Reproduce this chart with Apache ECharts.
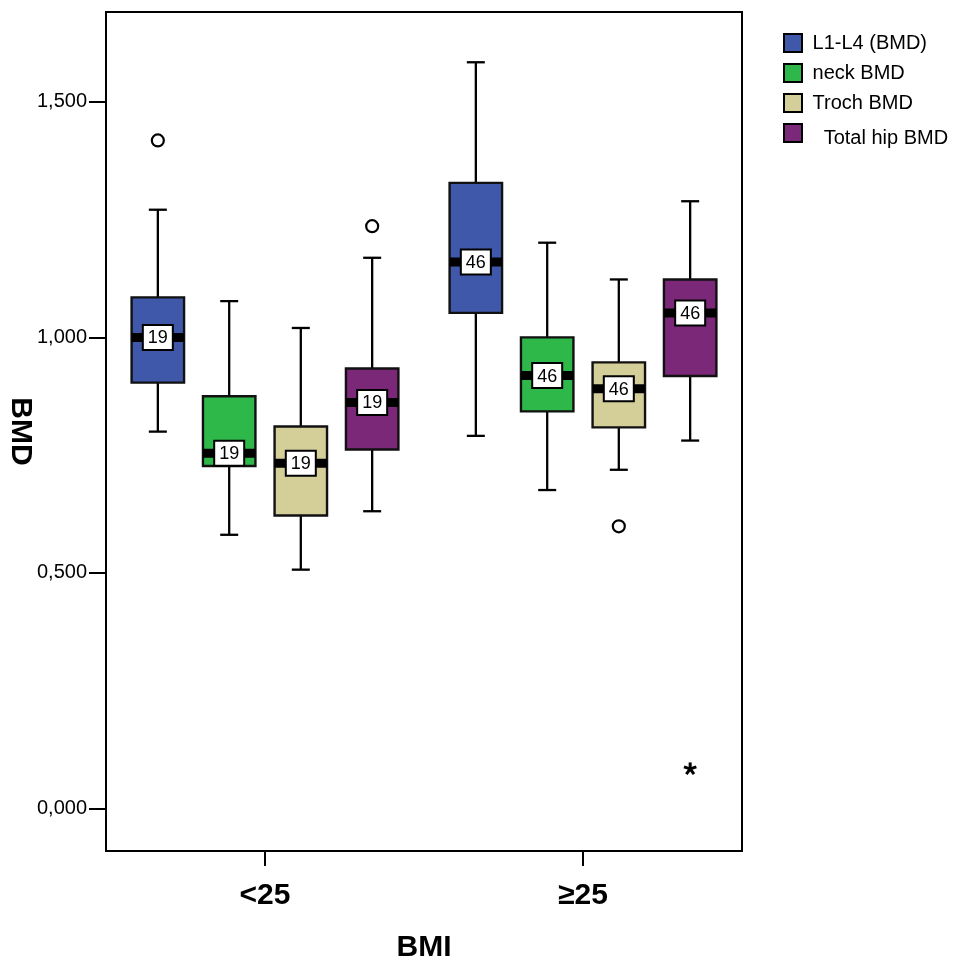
<!DOCTYPE html>
<html>
<head>
<meta charset="utf-8">
<script src="https://cdn.jsdelivr.net/npm/echarts@6/dist/echarts.min.js"></script>
<style>
html,body{margin:0;padding:0;background:#fff;}
#chart{width:955px;height:960px;}
</style>
</head>
<body>
<div id="chart"></div>
<script>
// ---- data ----
var categories = ['<25', '\u226525'];
var seriesNames = ['L1-L4 (BMD)', 'neck BMD', 'Troch BMD', 'Total hip BMD'];
// [lowWhisker, Q1, median, Q3, highWhisker] per BMI category
var l1l4     = [[0.800, 0.904, 1.000, 1.085, 1.271], [0.791, 1.052, 1.160, 1.328, 1.584]];
var neck     = [[0.581, 0.727, 0.754, 0.875, 1.077], [0.676, 0.843, 0.919, 1.000, 1.201]];
var troch    = [[0.507, 0.622, 0.733, 0.811, 1.020], [0.719, 0.809, 0.891, 0.947, 1.123]];
var totalHip = [[0.631, 0.762, 0.862, 0.934, 1.169], [0.781, 0.918, 1.052, 1.123, 1.289]];
var counts = [19, 46];
// [categoryIndex, seriesIndex, value, kind]  kind: 'o' outlier, '*' extreme
var outliers = [[0, 0, 1.418, 'o'], [0, 3, 1.236, 'o'], [1, 2, 0.599, 'o'], [1, 3, 0.084, '*']];
var yTicks = [0, 0.5, 1.0, 1.5];

// ---- styles ----
var colors = ['#3F58AA', '#2FB84A', '#D4CF98', '#7B2878'];
var offsets = [-0.337, -0.1126, 0.1126, 0.337]; // fraction of band width
var boxFrac = 0.165;
var FONT = "'Liberation Sans', Arial, sans-serif";

var allSets = [l1l4, neck, troch, totalHip];

function boxRender(sIdx) {
  return function (params, api) {
    var cat = api.value(0);
    var low = api.coord([cat, api.value(1)]);
    var q1 = api.coord([cat, api.value(2)]);
    var med = api.coord([cat, api.value(3)]);
    var q3 = api.coord([cat, api.value(4)]);
    var high = api.coord([cat, api.value(5)]);
    var n = api.value(6);
    var band = api.size([1, 0])[0];
    var cx = low[0] + offsets[sIdx] * band;
    var bw = band * boxFrac;
    var cap = 18;
    var ln = {stroke: '#000', lineWidth: 2.3};
    return {
      type: 'group',
      children: [
        {type: 'line', shape: {x1: cx, y1: high[1], x2: cx, y2: q3[1]}, style: ln},
        {type: 'line', shape: {x1: cx, y1: q1[1], x2: cx, y2: low[1]}, style: ln},
        {type: 'line', shape: {x1: cx - cap / 2, y1: high[1], x2: cx + cap / 2, y2: high[1]}, style: ln},
        {type: 'line', shape: {x1: cx - cap / 2, y1: low[1], x2: cx + cap / 2, y2: low[1]}, style: ln},
        {type: 'rect', shape: {x: cx - bw / 2, y: q3[1], width: bw, height: q1[1] - q3[1]},
          style: {fill: colors[sIdx], stroke: '#111', lineWidth: 2.4}},
        {type: 'line', shape: {x1: cx - bw / 2, y1: med[1], x2: cx + bw / 2, y2: med[1]},
          style: {stroke: '#000', lineWidth: 9}},
        {type: 'rect', shape: {x: cx - 15, y: med[1] - 12.5, width: 30, height: 25},
          style: {fill: '#fff', stroke: '#000', lineWidth: 2}},
        {type: 'text', x: cx, y: med[1] + 1,
          style: {text: String(n), fill: '#000', font: '18px ' + FONT, align: 'center', verticalAlign: 'middle'}}
      ]
    };
  };
}

function outlierRender(params, api) {
  var cat = api.value(0);
  var sIdx = api.value(1);
  var p = api.coord([cat, api.value(2)]);
  var band = api.size([1, 0])[0];
  var cx = p[0] + offsets[sIdx] * band;
  var kind = outliers[params.dataIndex][3];
  if (kind === 'o') {
    return {type: 'circle', shape: {cx: cx, cy: p[1], r: 6},
      style: {fill: '#fff', stroke: '#000', lineWidth: 2.2}};
  }
  var kids = [];
  for (var k = 0; k < 5; k++) {
    var a = (-90 + k * 72) * Math.PI / 180;
    kids.push({type: 'line', shape: {x1: cx, y1: p[1], x2: cx + 6.5 * Math.cos(a), y2: p[1] + 6.5 * Math.sin(a)},
      style: {stroke: '#000', lineWidth: 3}});
  }
  return {type: 'group', children: kids};
}

var series = seriesNames.map(function (name, i) {
  var data = allSets[i].map(function (d, c) {
    return [c, d[0], d[1], d[2], d[3], d[4], counts[c]];
  });
  return {
    name: name,
    type: 'custom',
    renderItem: boxRender(i),
    itemStyle: {color: colors[i], borderColor: '#000', borderWidth: 2},
    encode: {x: 0, y: [1, 2, 3, 4, 5]},
    data: data,
    z: 3
  };
});
series.push({
  name: 'outliers',
  type: 'custom',
  renderItem: outlierRender,
  encode: {x: 0, y: 2},
  data: outliers.map(function (o) { return [o[0], o[1], o[2]]; }),
  z: 4
});

var chart = echarts.init(document.getElementById('chart'), null, {renderer: 'canvas'});
chart.setOption({
  animation: false,
  backgroundColor: '#fff',
  textStyle: {fontFamily: FONT},
  grid: {left: 106, top: 12, right: 213, bottom: 109, show: true, borderColor: '#000', borderWidth: 2,
    containLabel: false, outerBoundsMode: 'none'},
  legend: {
    orient: 'vertical',
    left: 783, top: 33,
    padding: 0,
    itemWidth: 18, itemHeight: 18, itemGap: 10,
    icon: 'rect',
    itemStyle: {borderColor: '#000', borderWidth: 2},
    textStyle: {fontSize: 20, color: '#000', fontFamily: FONT,
      rich: {s: {fontSize: 20, color: '#000', fontFamily: FONT, padding: [10, 0, 0, 0]}}},
    formatter: function (n) { return n === 'Total hip BMD' ? '{s|   ' + n + '}' : ' ' + n; },
    data: seriesNames,
    selectedMode: false
  },
  xAxis: {
    type: 'category',
    data: categories,
    boundaryGap: true,
    axisLine: {show: true, onZero: false, lineStyle: {color: '#000', width: 2}},
    axisTick: {show: true, alignWithLabel: true, length: 15, lineStyle: {color: '#000', width: 2}},
    axisLabel: {fontSize: 30, fontWeight: 'bold', color: '#000', margin: 30, fontFamily: FONT},
    name: 'BMI',
    nameLocation: 'middle',
    nameGap: 82,
    nameMoveOverlap: false,
    nameTextStyle: {fontSize: 30, fontWeight: 'bold', color: '#000', fontFamily: FONT},
    splitLine: {show: false}
  },
  yAxis: {
    type: 'value',
    min: -0.0902,
    max: 1.6907,
    axisLine: {show: true, onZero: false, lineStyle: {color: '#000', width: 2}},
    axisTick: {show: true, length: 17, lineStyle: {color: '#000', width: 2}, customValues: yTicks},
    axisLabel: {fontSize: 20, color: '#000', margin: 19, fontFamily: FONT, customValues: yTicks,
      formatter: function (v) { return v.toFixed(3).replace('.', ','); }},
    splitLine: {show: false},
    name: 'BMD',
    nameLocation: 'middle',
    nameRotate: -90,
    nameGap: 71,
    nameMoveOverlap: false,
    nameTextStyle: {fontSize: 30, fontWeight: 'bold', color: '#000', fontFamily: FONT}
  },
  series: series
});
</script>
</body>
</html>
